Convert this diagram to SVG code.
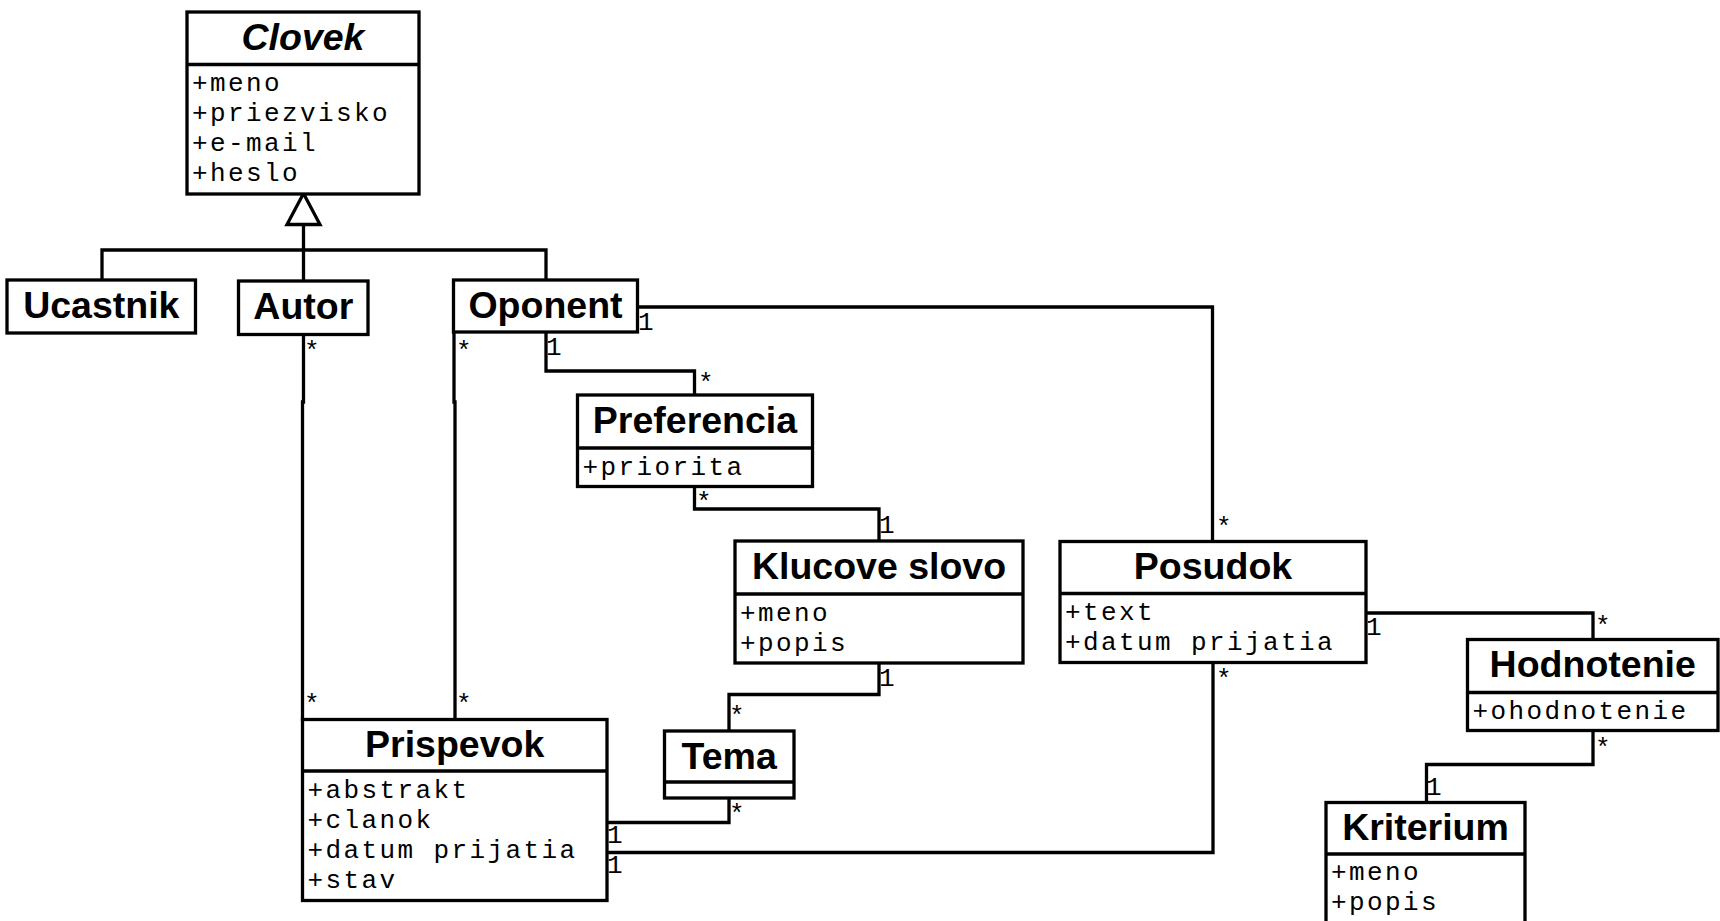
<svg xmlns="http://www.w3.org/2000/svg" width="1720" height="921" viewBox="0 0 1720 921">
  <style>
    .box { fill: #ffffff; stroke: #000000; stroke-width: 3.3; }
    .sep { stroke: #000000; stroke-width: 3.3; }
    .title { font-family: "Liberation Sans", Arial, sans-serif; font-weight: bold; font-size: 37.5px; text-anchor: middle; fill: #000000; }
    .abstract { font-style: italic; }
    .attr { font-family: "Liberation Mono", "Courier New", monospace; font-size: 26px; letter-spacing: 2.4px; fill: #000000; }
    .mult { font-family: "Liberation Mono", "Courier New", monospace; font-size: 26px; fill: #000000; }
    .wire { fill: none; stroke: #000000; stroke-width: 3.3; stroke-linejoin: miter; stroke-linecap: square; }
  </style>

  <rect width="1720" height="921" fill="#ffffff"/>

  <!-- associations and generalization -->
  <g id="connectors">
    <!-- generalization tree to Clovek -->
    <path class="wire" d="M303.5 224.5 V281"/>
    <path class="wire" d="M102 280 V250 H546 V280"/>
    <polygon points="303.5,193.5 287,224.5 320,224.5" fill="#ffffff" stroke="#000000" stroke-width="3.3" stroke-linejoin="miter"/>

    <!-- Oponent - Posudok -->
    <path class="wire" d="M637.5 307 H1212.5 V541.5"/>
    <!-- Oponent - Preferencia -->
    <path class="wire" d="M546 332 V371 H694.5 V395"/>
    <!-- Oponent - Prispevok -->
    <path class="wire" d="M454 332 V402 M455 402 V719.5"/>
    <!-- Autor - Prispevok -->
    <path class="wire" d="M303.5 334.5 V402 M302.5 402 V719.5"/>
    <!-- Preferencia - Klucove slovo -->
    <path class="wire" d="M694.5 486.5 V509 H879 V541"/>
    <!-- Klucove slovo - Tema -->
    <path class="wire" d="M879 663 V694.5 H729 V731"/>
    <!-- Tema - Prispevok -->
    <path class="wire" d="M729 798 V822.5 H607"/>
    <!-- Prispevok - Posudok -->
    <path class="wire" d="M607 852.5 H1213 V662.5"/>
    <!-- Posudok - Hodnotenie -->
    <path class="wire" d="M1366 613 H1593 V639.5"/>
    <!-- Hodnotenie - Kriterium -->
    <path class="wire" d="M1593 730.5 V764.5 H1426.5 V802.5"/>

    <!-- multiplicities -->
    <text class="mult" x="304" y="359">*</text>
    <text class="mult" x="456" y="359">*</text>
    <text class="mult" x="546" y="355">1</text>
    <text class="mult" x="638" y="330">1</text>
    <text class="mult" x="698" y="391">*</text>
    <text class="mult" x="696" y="510">*</text>
    <text class="mult" x="879" y="533">1</text>
    <text class="mult" x="879" y="686">1</text>
    <text class="mult" x="729" y="724">*</text>
    <text class="mult" x="729" y="822">*</text>
    <text class="mult" x="607" y="843">1</text>
    <text class="mult" x="607" y="873">1</text>
    <text class="mult" x="1216" y="687">*</text>
    <text class="mult" x="1216" y="535">*</text>
    <text class="mult" x="1366" y="635">1</text>
    <text class="mult" x="1595" y="634">*</text>
    <text class="mult" x="1595" y="756">*</text>
    <text class="mult" x="1426" y="795">1</text>
    <text class="mult" x="304" y="712">*</text>
    <text class="mult" x="456" y="712">*</text>
  </g>

  <g id="clovek">
    <rect class="box" x="187" y="12" width="232" height="182"/>
    <line class="sep" x1="187" y1="64.5" x2="419" y2="64.5"/>
    <text class="title abstract" x="303" y="49.5">Clovek</text>
    <text class="attr" x="192" y="91">+meno</text>
    <text class="attr" x="192" y="121">+priezvisko</text>
    <text class="attr" x="192" y="151">+e-mail</text>
    <text class="attr" x="192" y="181">+heslo</text>
  </g>

  <g id="ucastnik">
    <rect class="box" x="7" y="280" width="188.5" height="53"/>
    <text class="title" x="101.3" y="317.5">Ucastnik</text>
  </g>

  <g id="autor">
    <rect class="box" x="238.5" y="281" width="129.5" height="53.5"/>
    <text class="title" x="303.3" y="319">Autor</text>
  </g>

  <g id="oponent">
    <rect class="box" x="453.5" y="280" width="184" height="52"/>
    <text class="title" x="545.5" y="317.5">Oponent</text>
  </g>

  <g id="preferencia">
    <rect class="box" x="577.5" y="395" width="235" height="91.5"/>
    <line class="sep" x1="577.5" y1="448" x2="812.5" y2="448"/>
    <text class="title" x="695" y="433">Preferencia</text>
    <text class="attr" x="582.5" y="474.5">+priorita</text>
  </g>

  <g id="klucove-slovo">
    <rect class="box" x="735" y="541" width="288" height="122"/>
    <line class="sep" x1="735" y1="594" x2="1023" y2="594"/>
    <text class="title" x="879" y="579">Klucove slovo</text>
    <text class="attr" x="740" y="620.5">+meno</text>
    <text class="attr" x="740" y="650.5">+popis</text>
  </g>

  <g id="posudok">
    <rect class="box" x="1060" y="541.5" width="306" height="121"/>
    <line class="sep" x1="1060" y1="593.5" x2="1366" y2="593.5"/>
    <text class="title" x="1213" y="579">Posudok</text>
    <text class="attr" x="1065" y="620">+text</text>
    <text class="attr" x="1065" y="650">+datum prijatia</text>
  </g>

  <g id="hodnotenie">
    <rect class="box" x="1467.5" y="639.5" width="250.5" height="91"/>
    <line class="sep" x1="1467.5" y1="692.5" x2="1718" y2="692.5"/>
    <text class="title" x="1592.7" y="677">Hodnotenie</text>
    <text class="attr" x="1472.5" y="718.5">+ohodnotenie</text>
  </g>

  <g id="kriterium">
    <rect class="box" x="1326" y="802.5" width="199" height="140"/>
    <line class="sep" x1="1326" y1="854" x2="1525" y2="854"/>
    <text class="title" x="1425.5" y="840">Kriterium</text>
    <text class="attr" x="1331" y="880">+meno</text>
    <text class="attr" x="1331" y="910">+popis</text>
  </g>

  <g id="prispevok">
    <rect class="box" x="302.5" y="719.5" width="304.5" height="181"/>
    <line class="sep" x1="302.5" y1="771" x2="607" y2="771"/>
    <text class="title" x="454.7" y="756.5">Prispevok</text>
    <text class="attr" x="307.5" y="798">+abstrakt</text>
    <text class="attr" x="307.5" y="828">+clanok</text>
    <text class="attr" x="307.5" y="858">+datum prijatia</text>
    <text class="attr" x="307.5" y="888">+stav</text>
  </g>

  <g id="tema">
    <rect class="box" x="664.5" y="731" width="129.5" height="67"/>
    <line class="sep" x1="664.5" y1="782" x2="794" y2="782"/>
    <text class="title" x="729.2" y="769">Tema</text>
  </g>
</svg>
